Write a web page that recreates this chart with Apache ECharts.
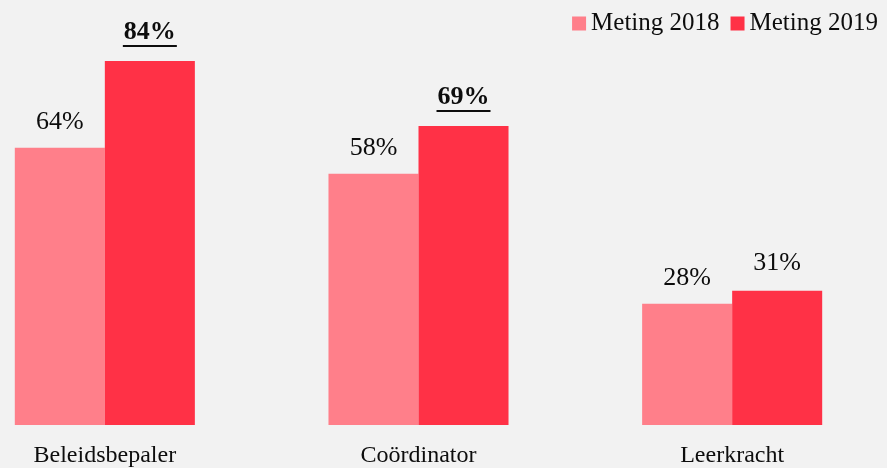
<!DOCTYPE html>
<html>
<head>
<meta charset="utf-8">
<script src="https://cdn.jsdelivr.net/npm/echarts@6/dist/echarts.min.js"></script>
<style>
  html, body { margin: 0; padding: 0; background: #f2f2f2; }
  #chart { width: 887px; height: 468px; }
</style>
</head>
<body>
<div id="chart"></div>
<script>
const categories = ['Beleidsbepaler', 'Coördinator', 'Leerkracht'];
const meting2018 = [64, 58, 28];
const meting2019 = [84, 69, 31];
// which 2019 labels are bold + underlined
const highlight2019 = [true, true, false];

const fontFamily = '"Liberation Serif", "DejaVu Serif", serif';
const textColor = '#0d0d0d';

var myChart = echarts.init(document.getElementById('chart'));

var option = {
    backgroundColor: '#f2f2f2',
    textStyle: { fontFamily: fontFamily },
    legend: {
        data: ['Meting 2018', 'Meting 2019'],
        right: 4,
        top: 6,
        itemWidth: 14,
        itemHeight: 14,
        itemGap: 11,
        icon: 'rect',
        textStyle: { fontFamily: fontFamily, fontSize: 25, color: textColor, padding: [0, 0, 0, 0] }
    },
    grid: {
        left: -52,
        right: -2,
        top: 35,
        bottom: 43,
        outerBoundsMode: 'none'
    },
    xAxis: {
        type: 'category',
        data: categories,
        axisLine: { show: false },
        axisTick: { show: false },
        axisLabel: {
            fontFamily: fontFamily,
            fontSize: 24,
            color: textColor,
            margin: 19
        }
    },
    yAxis: {
        type: 'value',
        min: 0,
        max: 90,
        show: false,
        splitLine: { show: false }
    },
    series: [
        {
            name: 'Meting 2018',
            type: 'bar',
            data: meting2018,
            barGap: '0%',
            barCategoryGap: '42.6%',
            itemStyle: { color: '#ff7f8a' },
            label: {
                show: true,
                position: 'top',
                distance: 12,
                fontFamily: fontFamily,
                fontSize: 26,
                color: textColor,
                formatter: '{c}%'
            }
        },
        {
            name: 'Meting 2019',
            type: 'bar',
            data: meting2019,
            barGap: '0%',
            barCategoryGap: '42.6%',
            itemStyle: { color: '#ff3146' },
            label: {
                show: true,
                position: 'top',
                distance: 14,
                fontFamily: fontFamily,
                fontSize: 26,
                color: textColor,
                formatter: function (p) {
                    if (highlight2019[p.dataIndex]) {
                        return '{b|' + p.value + '%}\n{u|}';
                    }
                    return p.value + '%';
                },
                rich: {
                    b: { fontFamily: fontFamily, fontSize: 26, fontWeight: 'bold', color: textColor, height: 25 },
                    u: { height: 2, width: 54, backgroundColor: textColor }
                }
            }
        }
    ]
};

myChart.setOption(option);
</script>
</body>
</html>
